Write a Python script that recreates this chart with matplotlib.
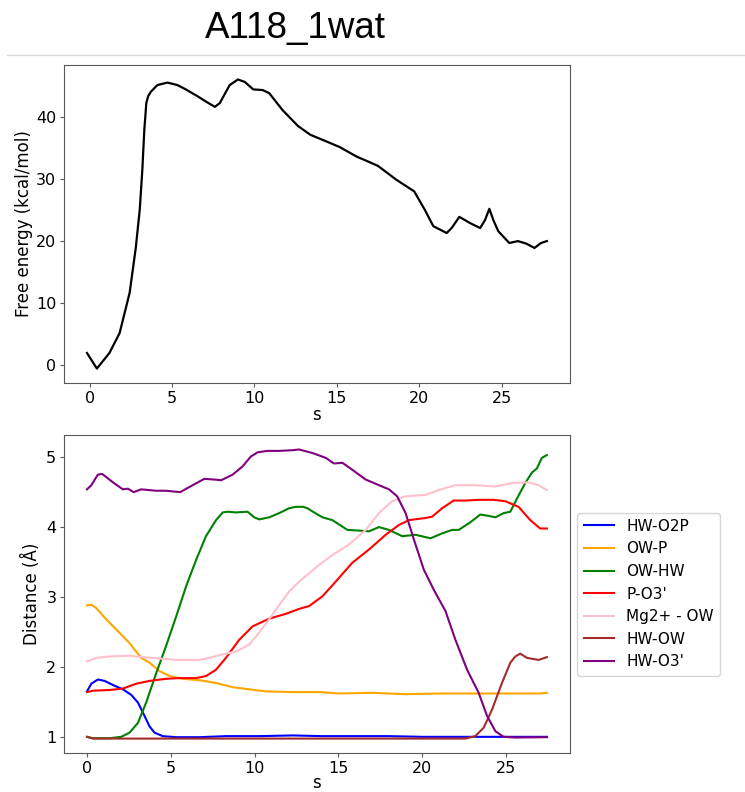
import numpy as np
import matplotlib
matplotlib.use('Agg')
import matplotlib.pyplot as plt
from matplotlib.lines import Line2D

#%% free energy profile along s
s_fe = [-0.16, 0.44, 1.2, 1.82, 2.43, 2.8, 3.04, 3.2, 3.32, 3.44, 3.55, 3.71, 4.11,
        4.72, 5.33, 5.84, 6.55, 7.09, 7.6, 7.9, 8.5, 9.0, 9.42, 9.93, 10.5, 10.9,
        11.7, 12.65, 13.4, 14.4, 15.2, 16.2, 16.9, 17.5, 18.6, 19.7, 20.35, 20.86,
        21.67, 21.97, 22.44, 23.09, 23.7, 24.0, 24.26, 24.5, 24.8, 25.47, 26.0,
        26.5, 27.0, 27.4, 27.75]
free_energy = [2.0, -0.5, 2.0, 5.2, 11.7, 18.9, 25.0, 31.5, 37.9, 42.2, 43.3, 44.0, 45.1,
               45.5, 45.1, 44.4, 43.3, 42.4, 41.6, 42.2, 45.1, 46.0, 45.6, 44.4, 44.3, 43.8,
               41.1, 38.5, 37.1, 36.0, 35.1, 33.6, 32.8, 32.1, 29.9, 28.0, 25.0, 22.4,
               21.3, 22.1, 23.9, 22.9, 22.1, 23.4, 25.2, 23.4, 21.6, 19.7, 20.0,
               19.6, 18.9, 19.7, 20.0]

#%% distances along s
s_hw_o2p = [0, 0.26, 0.65, 1.05, 1.65, 2.14, 2.64, 3.04, 3.43, 3.73, 4.03, 4.52, 5.32,
            6.71, 8.29, 10.3, 12.3, 14.0, 16.0, 18.0, 20.0, 22.0, 24.0, 26.0, 27.44]
hw_o2p = [1.65, 1.76, 1.82, 1.80, 1.73, 1.68, 1.60, 1.49, 1.30, 1.15, 1.06, 1.01, 0.995,
          0.995, 1.01, 1.01, 1.02, 1.01, 1.01, 1.01, 1.0, 1.0, 1.0, 1.0, 1.0]

s_ow_p = [0, 0.26, 0.56, 1.15, 1.85, 2.54, 3.23, 3.73, 4.33, 4.92, 5.71, 6.71, 7.7,
          8.69, 9.68, 10.67, 12.26, 13.85, 15.04, 17.0, 19.0, 21.0, 23.0, 25.0, 27.0, 27.44]
ow_p = [2.88, 2.89, 2.84, 2.68, 2.51, 2.34, 2.13, 2.06, 1.94, 1.87, 1.83, 1.81, 1.77,
        1.71, 1.68, 1.65, 1.64, 1.64, 1.62, 1.63, 1.61, 1.62, 1.62, 1.62, 1.62, 1.63]

s_ow_hw = [0, 0.36, 1.35, 2.04, 2.54, 3.04, 3.53, 4.13, 4.72, 5.32, 5.91, 6.51, 7.1,
           7.7, 8.1, 8.39, 8.89, 9.58, 9.98, 10.28, 10.87, 11.47, 12.06, 12.46, 12.9,
           13.15, 13.55, 14.05, 14.64, 15.54, 16.23, 16.83, 17.42, 18.02, 18.81, 19.6,
           20.5, 21.19, 21.79, 22.18, 22.88, 23.47, 23.97, 24.37, 24.86, 25.26, 25.66,
           26.15, 26.55, 26.85, 27.14, 27.44]
ow_hw = [1.0, 0.98, 0.98, 1.0, 1.06, 1.2, 1.49, 1.91, 2.30, 2.72, 3.15, 3.53, 3.87,
         4.10, 4.21, 4.22, 4.21, 4.22, 4.14, 4.11, 4.14, 4.20, 4.27, 4.29, 4.29,
         4.27, 4.21, 4.14, 4.10, 3.96, 3.95, 3.94, 4.0, 3.96, 3.87, 3.89,
         3.84, 3.91, 3.96, 3.96, 4.07, 4.18, 4.16, 4.14, 4.20, 4.22, 4.41,
         4.63, 4.78, 4.84, 4.99, 5.03]

s_p_o3 = [0, 0.36, 1.35, 2.14, 2.94, 3.73, 4.72, 5.52, 6.51, 7.1, 7.7, 8.29, 9.09,
          9.88, 10.87, 11.87, 12.66, 13.25, 14.05, 14.84, 15.83, 16.83, 17.82, 18.61,
          19.21, 20.2, 20.6, 21.19, 21.88, 22.58, 23.37, 24.27, 24.96, 25.75, 26.45,
          27.04, 27.44]
p_o3 = [1.64, 1.66, 1.67, 1.69, 1.76, 1.80, 1.83, 1.84, 1.84, 1.87, 1.96, 2.13, 2.39,
        2.58, 2.69, 2.76, 2.83, 2.87, 3.01, 3.22, 3.49, 3.68, 3.89, 4.03,
        4.10, 4.13, 4.15, 4.27, 4.38, 4.38, 4.39, 4.39, 4.37, 4.29, 4.10,
        3.98, 3.98]

s_mg_ow = [0, 0.56, 1.35, 2.54, 3.33, 4.33, 5.32, 6.71, 7.3, 8.1, 8.89, 9.68, 10.28,
           11.07, 12.06, 12.66, 13.85, 14.64, 15.63, 16.63, 17.42, 18.21, 19.01, 20.2,
           20.99, 21.98, 23.17, 24.37, 25.36, 26.35, 26.94, 27.44]
mg_ow = [2.08, 2.13, 2.15, 2.16, 2.14, 2.12, 2.10, 2.10, 2.13, 2.18, 2.22, 2.32, 2.49,
         2.75, 3.08, 3.22, 3.46, 3.60, 3.75, 3.96, 4.20, 4.37, 4.44, 4.46,
         4.53, 4.60, 4.60, 4.58, 4.63, 4.64, 4.60, 4.53]

s_hw_ow = [0, 0.36, 5.0, 10.0, 15.0, 20.0, 22.58, 23.17, 23.67, 24.17, 24.76, 25.26,
           25.56, 25.85, 26.25, 26.94, 27.44]
hw_ow = [1.0, 0.975, 0.975, 0.975, 0.975, 0.975, 0.975, 1.01, 1.13, 1.39, 1.77, 2.06,
         2.15, 2.19, 2.13, 2.10, 2.14]

s_hw_o3 = [0, 0.26, 0.65, 0.91, 1.55, 2.14, 2.44, 2.78, 3.23, 4.13, 4.72, 5.56, 6.31,
           7.0, 7.6, 8.0, 8.69, 9.29, 9.78, 10.18, 10.77, 11.47, 12.26, 12.66, 13.45,
           14.25, 14.74, 15.24, 15.83, 16.63, 17.42, 18.02, 18.51, 19.01, 19.51, 20.1,
           20.7, 21.39, 21.98, 22.68, 23.37, 23.87, 24.37, 24.86, 25.56, 27.44]
hw_o3 = [4.54, 4.60, 4.75, 4.76, 4.64, 4.54, 4.55, 4.50, 4.54, 4.52, 4.52, 4.50, 4.60,
         4.69, 4.68, 4.67, 4.75, 4.87, 5.01, 5.07, 5.09, 5.09, 5.10, 5.11, 5.06,
         4.99, 4.91, 4.92, 4.82, 4.68, 4.60, 4.54, 4.44, 4.20, 3.82, 3.39,
         3.10, 2.80, 2.39, 1.96, 1.63, 1.30, 1.08, 1.0, 0.99, 0.995]

size = 12
tsize = 11.5

fig = plt.figure(figsize=(7.45, 7.92), dpi=100)
fig.text(0.396, 0.952, 'A118_1wat', family='Liberation Sans', fontsize=26.5, ha='center', va='baseline')
fig.add_artist(Line2D([0.01, 1.0], [0.931, 0.931], color='#d9d9d9', lw=1.0))

ax1 = fig.add_axes([0.0859, 0.5164, 0.679, 0.4015])
ax1.plot(s_fe, free_energy, color='k', lw=1.6)
ax1.set_xticks([0, 5, 10, 15, 20, 25])
ax1.set_yticks([0, 10, 20, 30, 40])
ax1.set_xlabel('s', size=size, labelpad=0)
ax1.set_ylabel('Free energy (kcal/mol)', size=size, labelpad=2)

ax2 = fig.add_axes([0.0859, 0.0492, 0.679, 0.4015])
ax2.plot(s_hw_o2p, hw_o2p, color='blue', lw=1.5, label='HW-O2P')
ax2.plot(s_ow_p, ow_p, color='orange', lw=1.5, label='OW-P')
ax2.plot(s_ow_hw, ow_hw, color='green', lw=1.5, label='OW-HW')
ax2.plot(s_p_o3, p_o3, color='red', lw=1.5, label="P-O3'")
ax2.plot(s_mg_ow, mg_ow, color='pink', lw=1.5, label='Mg2+ - OW')
ax2.plot(s_hw_ow, hw_ow, color='brown', lw=1.5, label='HW-OW')
ax2.plot(s_hw_o3, hw_o3, color='purple', lw=1.5, label="HW-O3'")
ax2.set_xticks([0, 5, 10, 15, 20, 25])
ax2.set_yticks([1, 2, 3, 4, 5])
ax2.set_xlabel('s', size=size, labelpad=-1)
ax2.set_ylabel('Distance (Å)', size=size, labelpad=4)
ax2.legend(loc='center left', bbox_to_anchor=(1, 0.5), prop={'size': 11})

for ax in (ax1, ax2):
    for sp in ax.spines.values():
        sp.set_color('0.35')
    ax.tick_params(color='0.35', length=3, pad=2.5, labelsize=tsize)

plt.savefig('out.png', dpi=100)
